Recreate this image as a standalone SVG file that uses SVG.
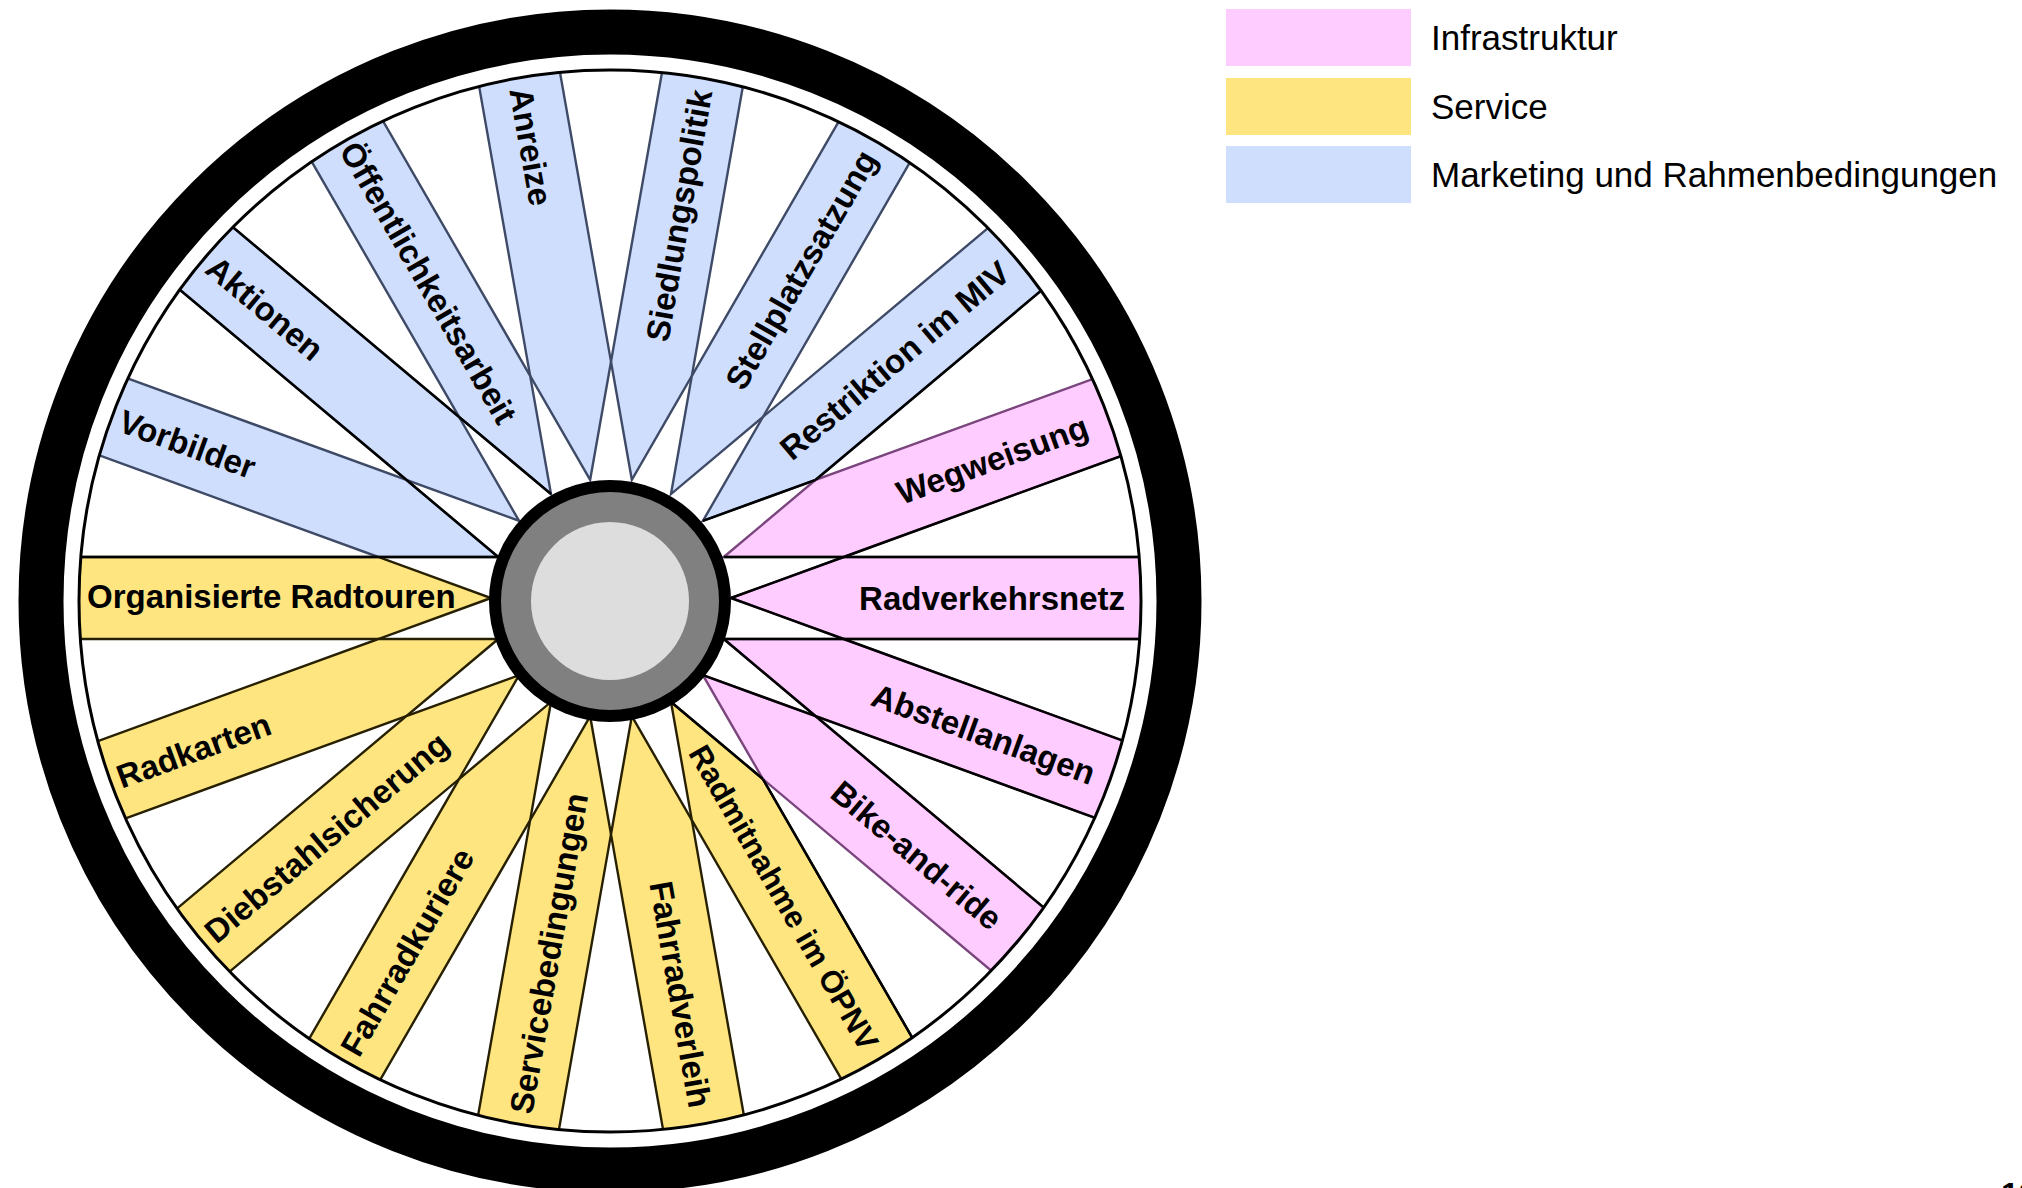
<svg xmlns="http://www.w3.org/2000/svg" xmlns:xlink="http://www.w3.org/1999/xlink" width="2022" height="1188" viewBox="0 0 2022 1188">
<style>
.blue{fill:#cfdefd;stroke:#3e4a66;stroke-width:2.4;stroke-linejoin:miter}
.yellow{fill:#ffe580;stroke:#262000;stroke-width:2.4;stroke-linejoin:miter}
.pink{fill:#ffccff;stroke:#7a467d;stroke-width:2.4;stroke-linejoin:miter}
.sp{fill:none;stroke:#000;stroke-width:2.5}
.lbl{font-family:"Liberation Sans",Arial,sans-serif;font-weight:bold;font-size:33px;fill:#000}
.leg{font-family:"Liberation Sans",Arial,sans-serif;font-size:35px;fill:#000}
</style>
<defs>
<clipPath id="rimclip"><circle cx="610" cy="601" r="531"/></clipPath>
<polygon id="band" points="731,598 843.76,556.96 1200,556.96 1200,639.04 843.76,639.04"/>
<path id="ccwT" d="M731,598 L843.76,556.96"/>
<path id="cwT" d="M731,598 L843.76,639.04"/>
<path id="ccwF" d="M843.76,556.96 L1200,556.96"/>
<path id="cwF" d="M843.76,639.04 L1200,639.04"/>
</defs>
<rect width="2022" height="1188" fill="#fff"/>

<g clip-path="url(#rimclip)">
<g id="restriktion"><use href="#band" class="blue" transform="rotate(-40 611 598)"/><text class="lbl" x="1125" y="610" text-anchor="end" transform="rotate(-40 611 598)">Restriktion im MIV</text></g>
<g id="stellplatzsatzung"><use href="#band" class="blue" transform="rotate(-60 611 598)"/><text class="lbl" x="1125" y="610" text-anchor="end" transform="rotate(-60 611 598)">Stellplatzsatzung</text></g>
<g id="siedlungspolitik"><use href="#band" class="blue" transform="rotate(-80 611 598)"/><text class="lbl" x="1127" y="610" text-anchor="end" transform="rotate(-80 611 598)">Siedlungspolitik</text></g>
<g id="anreize"><use href="#band" class="blue" transform="rotate(-100 611 598)"/><text class="lbl" x="93" y="610" transform="rotate(80 611 598)">Anreize</text></g>
<g id="oeffentlichkeitsarbeit"><use href="#band" class="blue" transform="rotate(-120 611 598)"/><text class="lbl" x="87" y="610" transform="rotate(60 611 598)">Öffentlichkeitsarbeit</text></g>
<g id="aktionen"><use href="#band" class="blue" transform="rotate(-140 611 598)"/><text class="lbl" x="89" y="610" transform="rotate(40 611 598)">Aktionen</text></g>
<g id="vorbilder"><use href="#band" class="blue" transform="rotate(-160 611 598)"/><text class="lbl" x="89" y="610" transform="rotate(20 611 598)">Vorbilder</text></g>
<g id="organisierte-radtouren"><use href="#band" class="yellow" transform="rotate(-180 611 598)"/><text class="lbl" x="87" y="608">Organisierte Radtouren</text></g>
<g id="radkarten"><use href="#band" class="yellow" transform="rotate(-200 611 598)"/><text class="lbl" x="86" y="610" transform="rotate(-20 611 598)">Radkarten</text></g>
<g id="diebstahlsicherung"><use href="#band" class="yellow" transform="rotate(-220 611 598)"/><text class="lbl" x="86" y="610" transform="rotate(-40 611 598)">Diebstahlsicherung</text></g>
<g id="fahrradkuriere"><use href="#band" class="yellow" transform="rotate(-240 611 598)"/><text class="lbl" x="86" y="610" transform="rotate(-60 611 598)">Fahrradkuriere</text></g>
<g id="servicebedingungen"><use href="#band" class="yellow" transform="rotate(-260 611 598)"/><text class="lbl" x="88" y="610" transform="rotate(-80 611 598)">Servicebedingungen</text></g>
<g id="fahrradverleih"><use href="#band" class="yellow" transform="rotate(80 611 598)"/><text class="lbl" x="1128" y="610" text-anchor="end" transform="rotate(80 611 598)">Fahrradverleih</text></g>
<g id="radmitnahme"><use href="#band" class="yellow" transform="rotate(60 611 598)"/><text class="lbl" x="1130" y="609" text-anchor="end" style="font-size:31px" transform="rotate(60 611 598)">Radmitnahme im ÖPNV</text></g>
<g id="bike-and-ride"><use href="#band" class="pink" transform="rotate(40 611 598)"/><text class="lbl" x="1116" y="610" text-anchor="end" transform="rotate(40 611 598)">Bike-and-ride</text></g>
<g id="abstellanlagen"><use href="#band" class="pink" transform="rotate(20 611 598)"/><text class="lbl" x="1125" y="610" text-anchor="end" transform="rotate(20 611 598)">Abstellanlagen</text></g>
<g id="radverkehrsnetz"><use href="#band" class="pink"/><text class="lbl" x="1125" y="610" text-anchor="end">Radverkehrsnetz</text></g>
<g id="wegweisung"><use href="#band" class="pink" transform="rotate(-20 611 598)"/><text class="lbl" x="1117" y="610" text-anchor="end" transform="rotate(-20 611 598)">Wegweisung</text></g>

<g id="spokes" class="sp">
<use href="#ccwT"/><use href="#ccwF"/><use href="#cwT"/><use href="#cwF"/>
<use href="#cwT" transform="rotate(-20 611 598)"/><use href="#cwF" transform="rotate(-20 611 598)"/>
<use href="#ccwT" transform="rotate(20 611 598)"/><use href="#ccwF" transform="rotate(20 611 598)"/><use href="#cwT" transform="rotate(20 611 598)"/><use href="#cwF" transform="rotate(20 611 598)"/>
<use href="#ccwT" transform="rotate(40 611 598)"/><use href="#ccwF" transform="rotate(40 611 598)"/>
<use href="#cwT" transform="rotate(-40 611 598)"/><use href="#cwF" transform="rotate(-40 611 598)"/>
<use href="#ccwT" transform="rotate(60 611 598)"/><use href="#ccwF" transform="rotate(60 611 598)"/>
<use href="#ccwT" transform="rotate(-120 611 598)"/><use href="#cwF" transform="rotate(-140 611 598)"/>
<use href="#cwT" transform="rotate(-160 611 598)"/><use href="#ccwF" transform="rotate(-140 611 598)"/>
<use href="#ccwT" transform="rotate(-160 611 598)"/><use href="#cwF" transform="rotate(-180 611 598)"/>
</g>
</g>

<g id="wheel">
<circle cx="610" cy="601" r="569" fill="none" stroke="#000" stroke-width="45"/>
<circle cx="610" cy="601" r="531" fill="none" stroke="#000" stroke-width="3"/>
</g>
<g id="hub">
<circle cx="610" cy="601" r="115" fill="#808080" stroke="#000" stroke-width="12"/>
<circle cx="610" cy="601" r="79" fill="#dddddd"/>
</g>

<g id="legend">
<g id="legend-infrastruktur"><rect x="1226" y="9" width="185" height="57" fill="#ffccff"/><text class="leg" x="1431" y="50">Infrastruktur</text></g>
<g id="legend-service"><rect x="1226" y="78" width="185" height="57" fill="#ffe580"/><text class="leg" x="1431" y="119">Service</text></g>
<g id="legend-marketing"><rect x="1226" y="146" width="185" height="57" fill="#cfdefd"/><text class="leg" x="1431" y="187">Marketing und Rahmenbedingungen</text></g>
</g>
<text x="2001" y="1205" font-family="Liberation Sans, Arial, sans-serif" font-weight="bold" font-size="32">12</text>
</svg>
